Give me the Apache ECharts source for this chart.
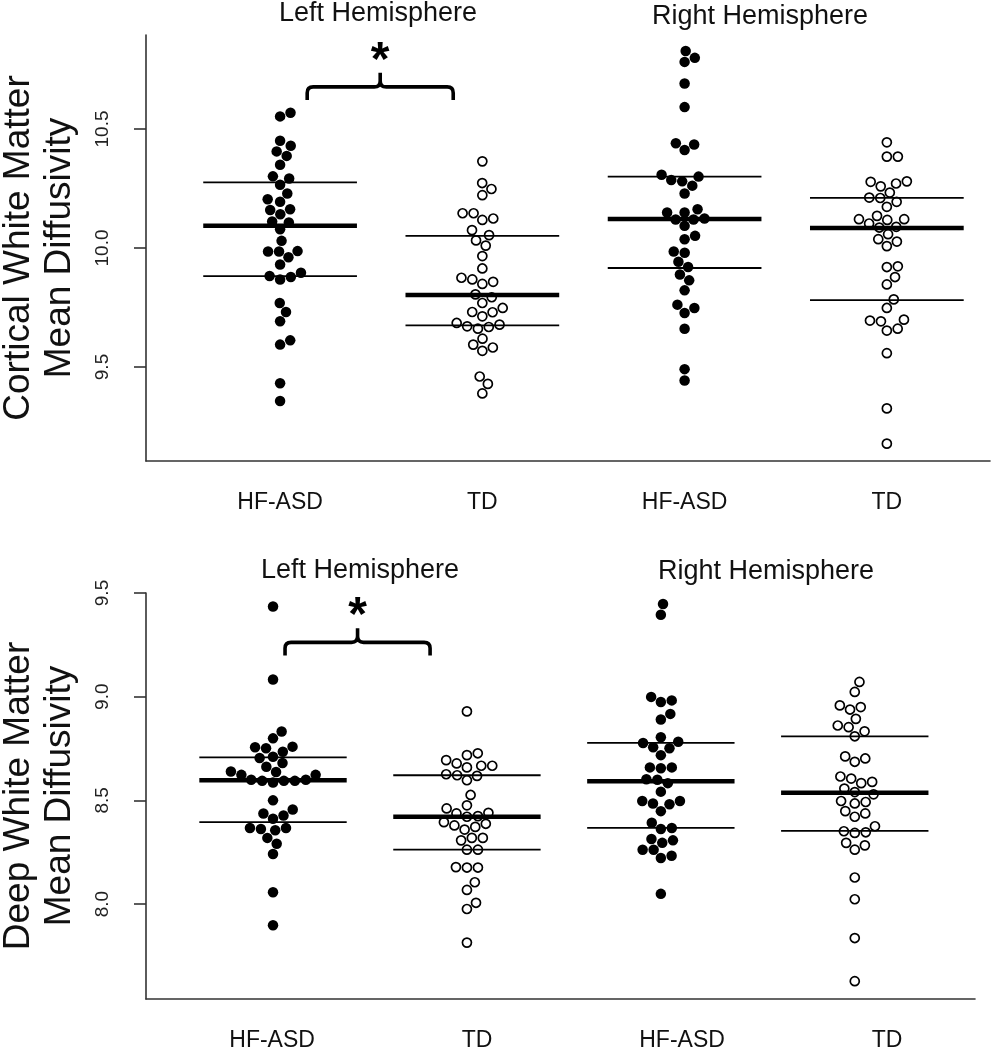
<!DOCTYPE html>
<html><head><meta charset="utf-8">
<script src="https://cdn.jsdelivr.net/npm/echarts@6/dist/echarts.min.js"></script>
<style>html,body{margin:0;padding:0;background:#fff}#c{width:993px;height:1050px}</style>
</head><body><div id="c"></div><script>
// ---------- data ----------
const categories = ['HF-ASD', 'TD', 'HF-ASD', 'TD'];
const hemispheres = ['Left Hemisphere', 'Right Hemisphere'];
const cortYName = 'Cortical White Matter\nMean Diffusivity';
const deepYName = 'Deep White Matter\nMean Diffusivity';
const cortTicks = [9.5, 10.0, 10.5];
const deepTicks = [8.0, 8.5, 9.0, 9.5];

const cortHfasdL = [10.568, 10.553, 10.451, 10.430, 10.406, 10.387, 10.350, 10.301, 10.292, 10.266, 10.229, 10.205, 10.194, 10.163, 10.160, 10.142, 10.111, 10.107, 10.079, 10.030, 9.987, 9.985, 9.985, 9.961, 9.931, 9.896, 9.882, 9.878, 9.868, 9.769, 9.731, 9.692, 9.612, 9.594, 9.432, 9.357];
const cortTdL = [10.364, 10.273, 10.248, 10.222, 10.146, 10.146, 10.124, 10.118, 10.075, 10.054, 10.032, 10.010, 9.966, 9.914, 9.875, 9.868, 9.858, 9.849, 9.805, 9.793, 9.769, 9.748, 9.731, 9.730, 9.713, 9.685, 9.678, 9.671, 9.668, 9.661, 9.619, 9.594, 9.582, 9.568, 9.460, 9.429, 9.389];
const cortHfasdR = [10.828, 10.799, 10.782, 10.691, 10.592, 10.440, 10.435, 10.412, 10.308, 10.300, 10.286, 10.280, 10.262, 10.229, 10.163, 10.149, 10.149, 10.124, 10.120, 10.120, 10.093, 10.051, 10.037, 9.985, 9.980, 9.942, 9.920, 9.889, 9.864, 9.822, 9.762, 9.748, 9.727, 9.661, 9.491, 9.443];
const cortTdR = [10.444, 10.384, 10.384, 10.280, 10.278, 10.271, 10.259, 10.233, 10.212, 10.210, 10.194, 10.173, 10.135, 10.121, 10.121, 10.118, 10.103, 10.089, 10.086, 10.058, 10.037, 10.027, 10.008, 9.923, 9.920, 9.878, 9.847, 9.784, 9.748, 9.699, 9.695, 9.692, 9.661, 9.653, 9.558, 9.326, 9.178];
const cortMean = [10.093, 9.802, 10.122, 10.084];
const cortUpper = [10.276, 10.051, 10.300, 10.211];
const cortLower = [9.882, 9.675, 9.916, 9.781];

const deepHfasdL = [9.435, 9.083, 8.832, 8.799, 8.759, 8.756, 8.751, 8.734, 8.710, 8.704, 8.680, 8.662, 8.639, 8.637, 8.623, 8.623, 8.599, 8.599, 8.594, 8.594, 8.594, 8.586, 8.500, 8.456, 8.437, 8.427, 8.411, 8.367, 8.367, 8.362, 8.356, 8.319, 8.291, 8.241, 8.057, 7.898];
const deepTdL = [8.929, 8.727, 8.718, 8.694, 8.678, 8.667, 8.667, 8.659, 8.626, 8.621, 8.618, 8.597, 8.526, 8.476, 8.461, 8.440, 8.437, 8.424, 8.421, 8.395, 8.387, 8.379, 8.372, 8.359, 8.319, 8.319, 8.307, 8.262, 8.262, 8.178, 8.176, 8.176, 8.105, 8.068, 8.006, 7.976, 7.814];
const deepHfasdR = [9.447, 9.395, 8.999, 8.982, 8.974, 8.917, 8.890, 8.804, 8.783, 8.777, 8.756, 8.751, 8.718, 8.659, 8.659, 8.655, 8.602, 8.599, 8.583, 8.542, 8.497, 8.497, 8.485, 8.481, 8.448, 8.392, 8.367, 8.362, 8.314, 8.307, 8.295, 8.262, 8.262, 8.233, 8.222, 8.049];
const deepTdR = [9.071, 9.023, 8.958, 8.950, 8.938, 8.893, 8.861, 8.853, 8.833, 8.809, 8.712, 8.702, 8.686, 8.615, 8.605, 8.589, 8.583, 8.557, 8.540, 8.529, 8.497, 8.492, 8.485, 8.448, 8.437, 8.421, 8.375, 8.351, 8.346, 8.343, 8.295, 8.283, 8.262, 8.128, 8.023, 7.836, 7.628];
const deepMean = [8.597, 8.421, 8.592, 8.537];
const deepUpper = [8.707, 8.621, 8.777, 8.809];
const deepLower = [8.395, 8.262, 8.367, 8.353];

// ---------- layout / styles ----------
const FONT = '"Liberation Sans", Arial, Helvetica, sans-serif';
const AX = '#333';
const HALF = 0.38;
const DOT = 11; // swarm spacing (px)

const panels = [
  { groups: [cortHfasdL, cortTdL, cortHfasdR, cortTdR], mean: cortMean, upper: cortUpper, lower: cortLower, xAxisIndex: 0, yAxisIndex: 0,
    bracket: [0.134, 0.856, 10.677, 10.622, 10.736, 10.783] },
  { groups: [deepHfasdL, deepTdL, deepHfasdR, deepTdR], mean: deepMean, upper: deepUpper, lower: deepLower, xAxisIndex: 2, yAxisIndex: 1,
    bracket: [0.062, 0.81, 9.262, 9.199, 9.33, 9.383] }
];

const chart = echarts.init(document.getElementById('c'), null, { renderer: 'canvas' });

function yAxisOpt(grid, min, max, ticks, name) {
  return {
    type: 'value', gridIndex: grid, min: min, max: max,
    axisLine: { show: true, onZero: false, lineStyle: { color: AX, width: 1.6 } },
    axisTick: { show: true, customValues: ticks, length: 12, lineStyle: { color: AX, width: 1.6 } },
    axisLabel: { customValues: ticks, rotate: 90, margin: 34, fontSize: 19, fontFamily: FONT, color: '#222',
      formatter: v => Number(v).toFixed(1) },
    splitLine: { show: false },
    name: name, nameLocation: 'middle', nameRotate: 90, nameGap: 66,
    nameTextStyle: { fontSize: 37, lineHeight: 41, fontFamily: FONT, color: '#111' }
  };
}
function xLabelAxis(grid, min, max) {
  return {
    type: 'value', gridIndex: grid, min: min, max: max, position: 'bottom',
    axisLine: { show: true, onZero: false, lineStyle: { color: AX, width: 1.6 } },
    axisTick: { show: false },
    axisLabel: { customValues: [0, 1, 2, 3], margin: 30, fontSize: 23, fontFamily: FONT, color: '#111',
      formatter: v => categories[Math.round(v)] },
    splitLine: { show: false }
  };
}

const series = [];
panels.forEach((p, pi) => {
  p.groups.forEach((vals, g) => {
    const hollow = g % 2 === 1;
    series.push({
      id: 's' + pi + '_' + g, type: 'scatter', xAxisIndex: p.xAxisIndex, yAxisIndex: p.yAxisIndex,
      symbol: 'circle', symbolSize: hollow ? 9 : 10.5, silent: true, z: 3,
      itemStyle: hollow ? { color: 'rgba(0,0,0,0)', borderColor: '#000', borderWidth: 1.7, opacity: 1 }
                        : { color: '#000', opacity: 1 },
      emphasis: { disabled: true },
      data: vals.map(v => [g, v])
    });
  });
  const lineData = [];
  for (let g = 0; g < 4; g++) {
    lineData.push([g, p.upper[g], 0], [g, p.mean[g], 1], [g, p.lower[g], 0]);
  }
  series.push({
    type: 'custom', xAxisIndex: p.xAxisIndex, yAxisIndex: p.yAxisIndex, silent: true, z: 2,
    data: lineData,
    renderItem: (params, api) => {
      const g = api.value(0), v = api.value(1), thick = api.value(2) === 1;
      const a = api.coord([g - HALF, v]), b = api.coord([g + HALF, v]);
      return { type: 'line', shape: { x1: a[0], y1: a[1], x2: b[0], y2: b[1] },
        style: { stroke: '#000', lineWidth: thick ? 4.5 : 1.8 } };
    }
  });
  series.push({
    type: 'custom', xAxisIndex: p.xAxisIndex, yAxisIndex: p.yAxisIndex, silent: true, z: 4,
    data: [p.bracket],
    renderItem: (params, api) => {
      const x1 = api.value(0), x2 = api.value(1), yb = api.value(2), yh = api.value(3), yt = api.value(4), ys = api.value(5);
      const xc = (x1 + x2) / 2;
      const A = api.coord([x1, yh]), B = api.coord([x1, yb]), C = api.coord([xc, yb]), T = api.coord([xc, yt]);
      const E = api.coord([x2, yb]), F = api.coord([x2, yh]), S = api.coord([xc, ys]);
      const r = 6;
      const d = 'M' + A[0] + ' ' + A[1] + ' L' + B[0] + ' ' + (B[1] + r) + ' Q' + B[0] + ' ' + B[1] + ' ' + (B[0] + r) + ' ' + B[1] +
        ' L' + (C[0] - r) + ' ' + C[1] + ' Q' + C[0] + ' ' + C[1] + ' ' + C[0] + ' ' + (C[1] - r) + ' L' + T[0] + ' ' + T[1] +
        ' M' + F[0] + ' ' + F[1] + ' L' + E[0] + ' ' + (E[1] + r) + ' Q' + E[0] + ' ' + E[1] + ' ' + (E[0] - r) + ' ' + E[1] +
        ' L' + (C[0] + r) + ' ' + C[1] + ' Q' + C[0] + ' ' + C[1] + ' ' + C[0] + ' ' + (C[1] - r);
      return { type: 'group', children: [
        { type: 'path', shape: { pathData: d }, style: { stroke: '#000', lineWidth: 3.6, fill: null, lineCap: 'butt', lineJoin: 'round' } },
        { type: 'text', style: { text: '*', x: S[0], y: S[1], font: 'bold 48px ' + FONT, fill: '#000', align: 'center', verticalAlign: 'middle' } }
      ] };
    }
  });
});

const titleFont = '27px ' + FONT;
const option = {
  animation: false,
  backgroundColor: '#fff',
  grid: [
    { left: 146, top: 35, width: 844, height: 426, containLabel: false, outerBoundsMode: 'none' },
    { left: 146, top: 593, width: 829, height: 406, containLabel: false, outerBoundsMode: 'none' }
  ],
  xAxis: [
    xLabelAxis(0, -0.663, 3.51),
    xLabelAxis(1, -0.615, 3.429),
    { type: 'value', gridIndex: 1, min: -0.655, max: 3.62, show: false }
  ],
  yAxis: [
    yAxisOpt(0, 9.105, 10.895, cortTicks, cortYName),
    yAxisOpt(1, 7.542, 9.5, deepTicks, deepYName)
  ],
  graphic: [
    { type: 'text', x: 378, y: 14, style: { text: hemispheres[0], font: titleFont, fill: '#111', align: 'center', verticalAlign: 'middle' } },
    { type: 'text', x: 760, y: 17, style: { text: hemispheres[1], font: titleFont, fill: '#111', align: 'center', verticalAlign: 'middle' } },
    { type: 'text', x: 360, y: 571, style: { text: hemispheres[0], font: titleFont, fill: '#111', align: 'center', verticalAlign: 'middle' } },
    { type: 'text', x: 766, y: 572, style: { text: hemispheres[1], font: titleFont, fill: '#111', align: 'center', verticalAlign: 'middle' } }
  ],
  series: series
};
chart.setOption(option);

// ---------- beeswarm layout (computed in pixel space via the chart's scales) ----------
function swarm(values, seriesId, center) {
  const f = { seriesId: seriesId };
  const p0 = chart.convertToPixel(f, [center, values[0]]);
  const p1 = chart.convertToPixel(f, [center + 1, values[0]]);
  const unit = p1[0] - p0[0];
  const py = values.map(v => chart.convertToPixel(f, [center, v])[1]);
  const order = values.map((v, i) => i).sort((a, b) => (values[a] - values[b]) || (a - b));
  const placed = [];
  const off = new Array(values.length).fill(0);
  for (const i of order) {
    const y = py[i];
    const cands = [0];
    for (const q of placed) {
      const dy = y - q.y;
      if (Math.abs(dy) < DOT) { const dx = Math.sqrt(DOT * DOT - dy * dy); cands.push(q.x + dx, q.x - dx); }
    }
    let best = null;
    for (const c of cands) {
      if (best !== null && Math.abs(c) >= Math.abs(best) - 1e-9) continue;
      let ok = true;
      for (const q of placed) {
        const dx = c - q.x, dy = y - q.y;
        if (dx * dx + dy * dy < DOT * DOT - 0.01) { ok = false; break; }
      }
      if (ok) best = c;
    }
    placed.push({ x: best, y: y });
    off[i] = best / unit;
  }
  return off;
}
const upd = [];
panels.forEach((p, pi) => {
  p.groups.forEach((vals, g) => {
    const id = 's' + pi + '_' + g;
    const off = swarm(vals, id, g);
    upd.push({ id: id, data: vals.map((v, i) => [g + off[i], v]) });
  });
});
chart.setOption({ series: upd });
</script></body></html>
